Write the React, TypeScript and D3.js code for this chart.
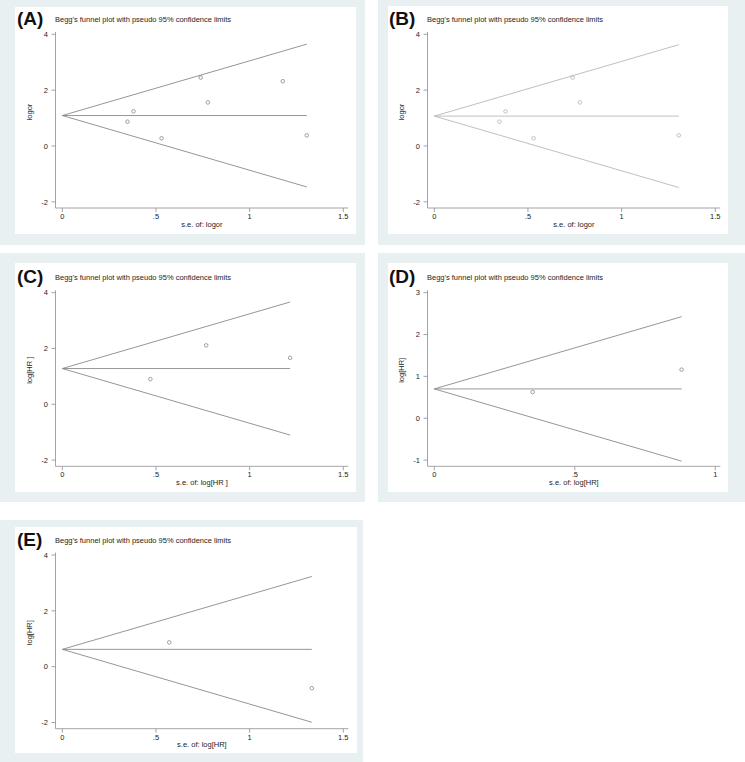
import React from "react";
import * as d3 from "d3";

// ---- data ----
const panelLabels = ["(A)", "(B)", "(C)", "(D)", "(E)"];
const chartTitle = "Begg's funnel plot with pseudo 95% confidence limits";
const yTitles = ["logor", "logor", "log[HR ]", "log[HR]", "log[HR]"];
const xTitles = ["s.e. of: logor", "s.e. of: logor", "s.e. of: log[HR ]", "s.e. of: log[HR]", "s.e. of: log[HR]"];

const seA = [0.348, 0.38, 0.53, 0.739, 0.777, 1.177, 1.305];
const effA = [0.87, 1.24, 0.275, 2.45, 1.56, 2.32, 0.38];
const seB = [0.348, 0.38, 0.53, 0.739, 0.777, 1.305];
const effB = [0.87, 1.24, 0.275, 2.45, 1.56, 0.38];
const seC = [0.47, 0.768, 1.216];
const effC = [0.9, 2.11, 1.665];
const seD = [0.35, 0.88];
const effD = [0.625, 1.16];
const seE = [0.571, 1.332];
const effE = [0.87, -0.77];

const pooled = [1.09, 1.07, 1.28, 0.7, 0.62];

const yTicksWide = [-2, 0, 2, 4];
const yTicksD = [-1, 0, 1, 2, 3];
const xTicksWide = [0, 0.5, 1, 1.5];
const xTicksD = [0, 0.5, 1];
const xDomainWide = [0, 1.5];
const xDomainD = [0, 1];
const yDomainWide = [-2, 4];
const yDomainD = [-1, 3];

const ses = [seA, seB, seC, seD, seE];
const effs = [effA, effB, effC, effD, effE];

// ---- layout (not data) ----
const outerBoxes = [
  { x: 0, y: 0, w: 365, h: 245 },
  { x: 378, y: 0, w: 367, h: 245 },
  { x: 0, y: 253, w: 365, h: 249 },
  { x: 378, y: 253, w: 367, h: 249 },
  { x: 0, y: 520, w: 363, h: 242 },
];
const innerBoxes = [
  { x: 15, y: 7, w: 341, h: 227 },
  { x: 388, y: 6, w: 340, h: 228 },
  { x: 15, y: 263, w: 341, h: 229 },
  { x: 388, y: 263, w: 340, h: 229 },
  { x: 15, y: 527, w: 342, h: 226 },
];
const offsets = [
  { dx: 0, dy: 0 },
  { dx: 372, dy: 0 },
  { dx: 0, dy: 258.3 },
  { dx: 372, dy: 258.3 },
  { dx: 0, dy: 520.7 },
];

const BG = "#e9f0f2";
const FONT = "'Liberation Sans', Arial, sans-serif";
const TXT = "#1e1e1e";

function fmt(v: number) {
  if (v === 0) return "0";
  const s = String(v);
  if (s.startsWith("0.")) return s.slice(1);
  if (s.startsWith("-0.")) return "-" + s.slice(2);
  return s;
}

function Panel({ i }: { i: number }) {
  const { dx, dy } = offsets[i];
  const isD = i === 3;
  const light = i === 1;
  const xs = d3.scaleLinear().domain(isD ? xDomainD : xDomainWide).range([62.3, 343.3]);
  const ys = d3.scaleLinear().domain(isD ? yDomainD : yDomainWide).range([201.8, 34.3]);
  const xTicks = isD ? xTicksD : xTicksWide;
  const yTicks = isD ? yTicksD : yTicksWide;
  const axisX = 55.5;
  const axisY = 208;
  const plotTop = 32;
  const lineCol = light ? "#b8b8b8" : "#8a8a8a";
  const markCol = light ? "#ababab" : "#7a7a7a";
  const axisCol = "#9a9a9a";
  const se = ses[i];
  const eff = effs[i];
  const p = pooled[i];
  const maxSe = d3.max(se) as number;
  const upper = d3.line<number>()
    .x((s) => xs(s))
    .y((s) => ys(p + 1.96 * s));
  const lower = d3.line<number>()
    .x((s) => xs(s))
    .y((s) => ys(p - 1.96 * s));
  const yLabelCenter = (plotTop + axisY) / 2 - 8;
  return (
    <g transform={`translate(${dx},${dy})`} fontFamily={FONT}>
      <text x={17} y={25} fontSize={19} fontWeight="bold" fill="#111">
        {panelLabels[i]}
      </text>
      <text x={55} y={22} fontSize={7.5} fill={TXT}>
        {chartTitle}
      </text>
      {/* axes */}
      <line x1={axisX} x2={axisX} y1={plotTop} y2={axisY} stroke={axisCol} strokeWidth={0.9} />
      <line x1={axisX} x2={348.3} y1={axisY} y2={axisY} stroke={axisCol} strokeWidth={0.9} />
      {yTicks.map((t) => (
        <g key={"y" + t}>
          <line x1={axisX - 4} x2={axisX} y1={ys(t)} y2={ys(t)} stroke={axisCol} strokeWidth={0.9} />
          <text x={48} y={ys(t) + 2.7} fontSize={7.5} textAnchor="end" fill={TXT}>
            {fmt(t)}
          </text>
        </g>
      ))}
      {xTicks.map((t) => (
        <g key={"x" + t}>
          <line x1={xs(t)} x2={xs(t)} y1={axisY} y2={axisY + 4} stroke={axisCol} strokeWidth={0.9} />
          <text x={xs(t)} y={axisY + 11} fontSize={7.5} textAnchor="middle" fill={TXT}>
            {fmt(t)}
          </text>
        </g>
      ))}
      <text x={(axisX + 348.3) / 2} y={axisY + 18.5} fontSize={7.5} textAnchor="middle" fill={TXT}>
        {xTitles[i]}
      </text>
      <text
        transform={`translate(31.5,${yLabelCenter}) rotate(-90)`}
        fontSize={7.5}
        textAnchor="middle"
        fill={TXT}
      >
        {yTitles[i]}
      </text>
      {/* funnel */}
      <path d={upper([0, maxSe]) || ""} fill="none" stroke={lineCol} strokeWidth={0.9} />
      <path d={lower([0, maxSe]) || ""} fill="none" stroke={lineCol} strokeWidth={0.9} />
      <line x1={xs(0)} x2={xs(maxSe)} y1={ys(p)} y2={ys(p)} stroke={lineCol} strokeWidth={0.9} />
      {se.map((s, k) => (
        <circle key={k} cx={xs(s)} cy={ys(eff[k])} r={1.8} fill="none" stroke={markCol} strokeWidth={0.7} />
      ))}
    </g>
  );
}

export default function App() {
  return (
    <svg
      width={745}
      height={762}
      style={{ position: "absolute", left: 0, top: 0, background: "#fff" }}
    >
      <rect x={0} y={0} width={745} height={762} fill="#fff" />
      {outerBoxes.map((b, k) => (
        <rect key={"o" + k} x={b.x} y={b.y} width={b.w} height={b.h} fill={BG} />
      ))}
      {innerBoxes.map((b, k) => (
        <rect key={"i" + k} x={b.x} y={b.y} width={b.w} height={b.h} fill="#fff" />
      ))}
      {panelLabels.map((_, i) => (
        <Panel key={i} i={i} />
      ))}
    </svg>
  );
}
